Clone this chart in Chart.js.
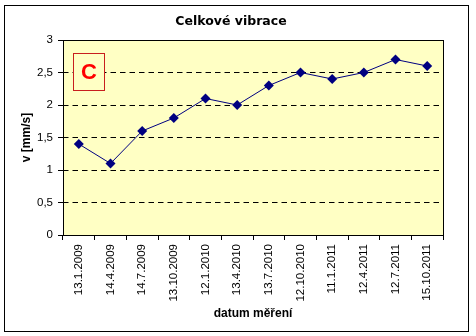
<!DOCTYPE html>
<html>
<head>
<meta charset="utf-8">
<script src="https://cdn.jsdelivr.net/npm/chart.js@4/dist/chart.umd.min.js"></script>
<style>
  html, body { margin: 0; padding: 0; background: #fff; }
  #wrap { width: 476px; height: 336px; }
</style>
</head>
<body>
<div id="wrap"><canvas id="chart" width="476" height="336"></canvas></div>
<script>
// measurement dates and overall vibration velocity
const dates = ['13.1.2009', '14.4.2009', '14.7.2009', '13.10.2009', '12.1.2010', '13.4.2010',
  '13.7.2010', '12.10.2010', '11.1.2011', '12.4.2011', '12.7.2011', '15.10.2011'];
const velocity = [1.4, 1.1, 1.6, 1.8, 2.1, 2.0, 2.3, 2.5, 2.4, 2.5, 2.7, 2.6];
const yTicks = [0, 0.5, 1, 1.5, 2, 2.5, 3];
const stampText = 'C';

const PLOT_BG = '#ffffc4';
const NAVY = '#000080';

// outer frame, plot background/border and the "C" stamp
const decor = {
  id: 'decor',
  beforeDraw(chart) {
    const { ctx, chartArea: a } = chart;
    ctx.save();
    ctx.fillStyle = '#fff';
    ctx.fillRect(0, 0, chart.width, chart.height);
    ctx.strokeStyle = '#000';
    ctx.lineWidth = 1;
    ctx.strokeRect(4.5, 5.5, 464, 326);
    ctx.fillStyle = PLOT_BG;
    ctx.fillRect(a.left, a.top, a.right - a.left, a.bottom - a.top);
    ctx.restore();
  },
  beforeDatasetsDraw(chart) {
    const { ctx, chartArea: a } = chart;
    ctx.save();
    ctx.strokeStyle = '#000';
    ctx.lineWidth = 1;
    ctx.strokeRect(Math.round(a.left) + 0.5, Math.round(a.top) + 0.5,
      Math.round(a.right - a.left), Math.round(a.bottom - a.top));
    // stamp box sits over the grid
    const bx = 73.5, by = 53.5, bw = 31, bh = 37;
    ctx.fillStyle = PLOT_BG;
    ctx.fillRect(bx, by, bw, bh);
    ctx.strokeStyle = '#c81e1e';
    ctx.strokeRect(bx, by, bw, bh);
    ctx.fillStyle = '#ff0000';
    ctx.font = 'bold 22px Arial, "Liberation Sans", sans-serif';
    ctx.textAlign = 'center';
    ctx.textBaseline = 'middle';
    ctx.fillText(stampText, bx + bw / 2, by + bh / 2 + 1);
    ctx.restore();
  }
};

const font = { family: 'Arial, "Liberation Sans", sans-serif', size: 11.5 };
const boldFont = { family: 'Arial, "Liberation Sans", sans-serif', size: 12, weight: 'bold' };

new Chart(document.getElementById('chart'), {
  type: 'line',
  data: {
    labels: dates,
    datasets: [{
      data: velocity,
      borderColor: NAVY,
      borderWidth: 1,
      backgroundColor: NAVY,
      pointStyle: 'rectRot',
      pointRadius: 5,
      pointBorderWidth: 0,
      pointBackgroundColor: NAVY,
      tension: 0,
    }],
  },
  options: {
    responsive: false,
    animation: false,
    events: [],
    layout: { padding: { left: 19, right: 33, top: 0, bottom: 15 } },
    plugins: {
      legend: { display: false },
      tooltip: { enabled: false },
      title: {
        display: true,
        text: 'Celkové vibrace',
        color: '#000',
        font: { family: '"DejaVu Sans", Verdana, sans-serif', size: 12.5, weight: 'bold' },
        padding: { top: 14, bottom: 11 },
      },
    },
    scales: {
      x: {
        offset: true,
        grid: { display: true, drawOnChartArea: false, offset: true, color: '#000', tickLength: 5 },
        border: { display: false },
        ticks: { color: '#000', font, minRotation: 90, maxRotation: 90, autoSkip: false, padding: 4 },
        title: { display: true, text: 'datum měření', color: '#000', font: boldFont, padding: 0 },
        afterFit(scale) { scale.height = 86; },
      },
      y: {
        min: 0,
        max: 3,
        afterBuildTicks(scale) { scale.ticks = yTicks.map((v) => ({ value: v })); },
        grid: { color: '#000', tickLength: 5, tickBorderDash: [] },
        border: { display: false, dash: [5.5, 4] },
        ticks: {
          color: '#000',
          font,
          padding: 5,
          callback: (v) => String(v).replace('.', ','),
        },
        title: { display: true, text: 'v [mm/s]', color: '#000', font: boldFont, padding: 0 },
        afterFit(scale) { scale.width = 44; },
      },
    },
  },
  plugins: [decor],
});
</script>
</body>
</html>
